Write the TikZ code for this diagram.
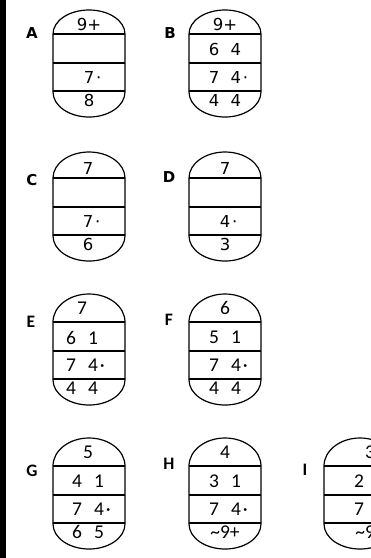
\documentclass[tikz,border=0pt]{standalone}
\usepackage{fontspec}
\newfontfamily\dvs{DejaVu Sans}
\newfontfamily\crl{Carlito}
\tikzset{
  pill/.style={line width=1.2pt},
  divider/.style={line width=1.2pt},
  heavy/.style={line width=2.4pt},
  txtA/.style={inner sep=0pt, font=\dvs\fontsize{16.5}{18}\selectfont},
  txtB/.style={inner sep=0pt, font=\crl\fontsize{19.5}{21}\selectfont},
  labA/.style={inner sep=0pt, font=\dvs\bfseries\fontsize{15}{16}\selectfont},
  labB/.style={inner sep=0pt, font=\crl\bfseries\fontsize{17.5}{18}\selectfont},
}
% pill outline: left x, divider-1 y, top cap height (half-ellipse caps)
\newcommand{\pillbox}[3]{%
  \draw[pill]
    (#1,#2) .. controls (#1,#2-0.5523*#3) and (#1+16.1,#2-#3) .. (#1+36,#2-#3)
    .. controls (#1+55.9,#2-#3) and (#1+72,#2-0.5523*#3) .. (#1+72,#2)
    -- (#1+72,#2+58)
    .. controls (#1+72,#2+58+13.8) and (#1+55.9,#2+83) .. (#1+36,#2+83)
    .. controls (#1+16.1,#2+83) and (#1,#2+58+13.8) .. (#1,#2+58)
    -- cycle;
  \draw[divider] (#1,#2) -- (#1+72,#2);
  \draw[divider] (#1,#2+29) -- (#1+72,#2+29);
  \draw[divider] (#1,#2+57) -- (#1+72,#2+57);
}
% texts: id, centre x, divider-1 y, top offset, style, t1, t2, t3, t4
\newcommand{\pilltext}[9]{%
  \node[#5] (#1t) at (#2,#3#4) {#6};
  \node[#5] (#1a) at (#2,#3+15.5) {#7};
  \node[#5] (#1b) at (#2,#3+43.5) {#8};
  \node[#5] (#1c) at (#2,#3+66) {#9};
}
\newcommand{\pr}[2]{\makebox[10pt]{#1}\hspace{12pt}\makebox[10pt]{#2}}
\newcommand{\dt}{\rlap{\kern2pt ·}}
\begin{document}
\begin{tikzpicture}[x=1pt,y=-1pt]
\useasboundingbox (0,0) rectangle (371,558);
\clip (0,0) rectangle (371,558);
\fill[white] (0,0) rectangle (371,558);
\fill[black] (0,0) rectangle (6,558);

% row 1
\pillbox{53}{34}{24}
\pillbox{189}{34}{24}
\pilltext{a}{89}{34}{-10}{txtA}{9+}{}{7\dt}{8}
\pilltext{b}{225}{34}{-10}{txtA}{9+}{\pr{6}{4}}{\pr{7}{4}\dt}{\pr{4}{4}}
\node[labA] (la) at (32,33) {A};
\node[labA] (lb) at (170,33) {B};

% row 2
\pillbox{53}{178}{26}
\pillbox{189}{178}{26}
\draw[heavy] (53,178) -- (125,178);
\draw[heavy] (189,178) -- (261,178);
\pilltext{c}{88}{178}{-10}{txtA}{7}{}{7\dt}{6}
\pilltext{d}{225}{178}{-10}{txtA}{7}{}{4\dt}{3}
\node[labA] (lc) at (32,180) {C};
\node[labA] (ld) at (169,177) {D};

% row 3
\pillbox{53}{322}{28}
\pillbox{189}{322}{28}
\pilltext{e}{82}{322}{-14}{txtB}{7}{\pr{6}{1}}{\pr{7}{4}\dt}{\pr{4}{4}}
\pilltext{f}{225}{322}{-14}{txtB}{6}{\pr{5}{1}}{\pr{7}{4}\dt}{\pr{4}{4}}
\node[labB] (le) at (31,322) {E};
\node[labB] (lf) at (169,320) {F};

% row 4
\pillbox{53}{466}{28}
\pillbox{189}{466}{28}
\pillbox{324}{466}{28}
\draw[heavy] (53,523) -- (125,523);
\draw[heavy] (189,523) -- (261,523);
\draw[heavy] (324,523) -- (396,523);
\pilltext{g}{88}{466}{-14}{txtB}{5}{\pr{4}{1}}{\pr{7}{4}\dt}{\pr{6}{5}}
\pilltext{h}{225}{466}{-14}{txtB}{4}{\pr{3}{1}}{\pr{7}{4}\dt}{\textasciitilde 9+}
\pilltext{i}{370}{466}{-14}{txtB}{3}{\pr{2}{1}}{\pr{7}{4}\dt}{\textasciitilde 9+}
\node[labB] (lg) at (32,471) {G};
\node[labB] (lh) at (169,464) {H};
\node[labB] (li) at (305,470) {I};
\end{tikzpicture}
\end{document}
